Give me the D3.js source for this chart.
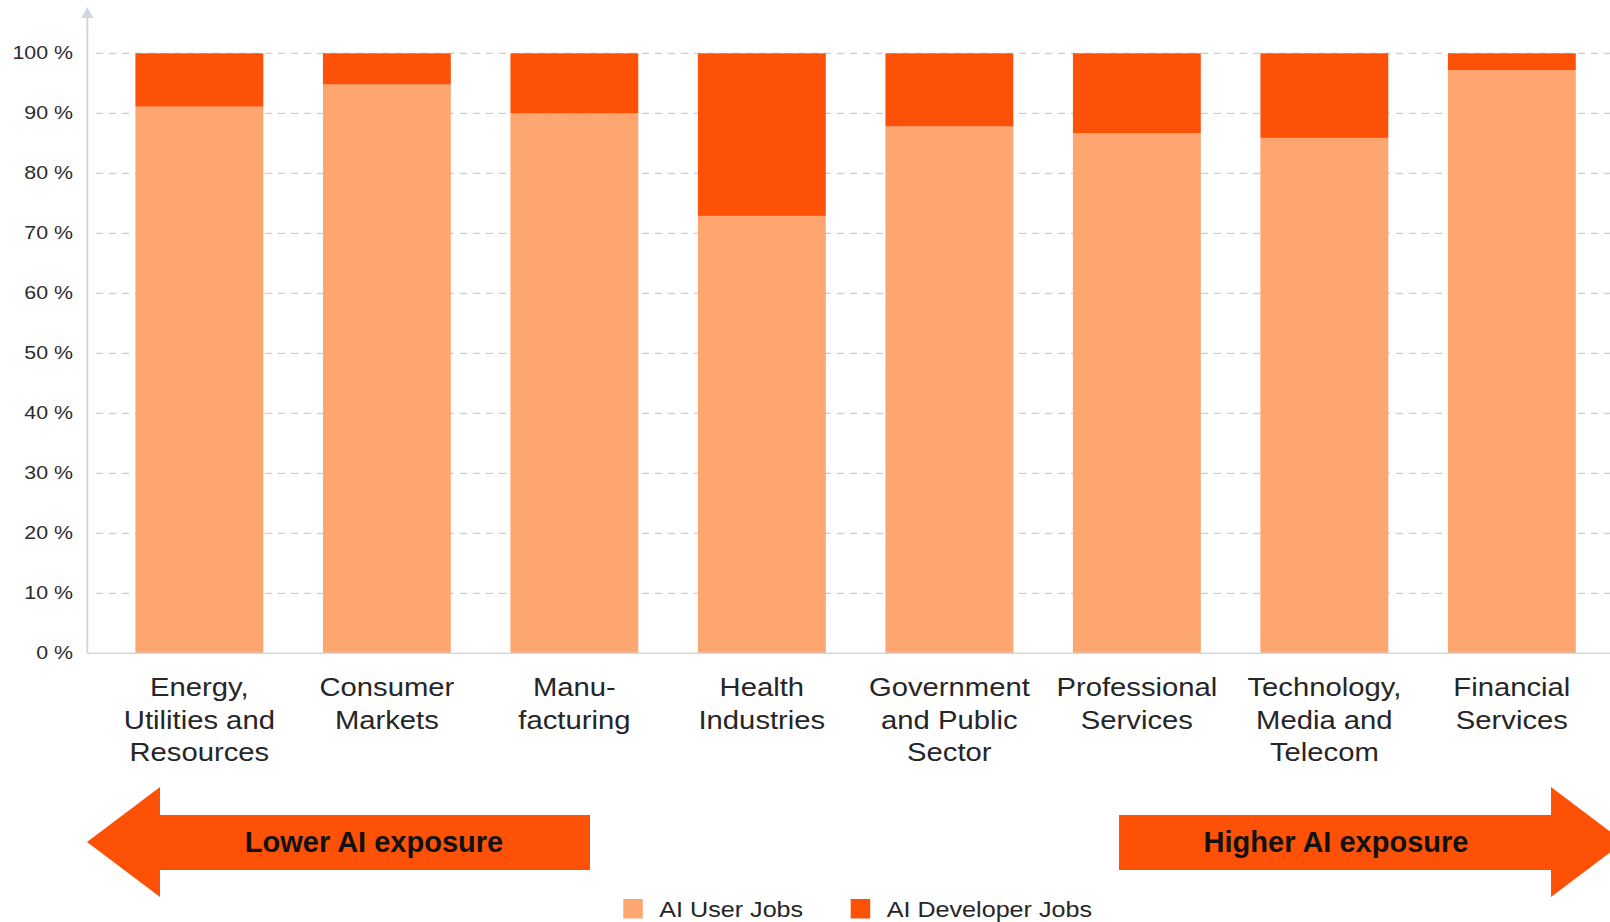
<!DOCTYPE html>
<html>
<head>
<meta charset="utf-8">
<script src="https://cdn.jsdelivr.net/npm/d3@7"></script>
<style>
  body { margin: 0; background: #fff; }
  svg { display: block; font-family: "Liberation Sans", Arial, Helvetica, sans-serif; }
</style>
</head>
<body>
<div id="chart"></div>
<script>
const categories = [
  'Energy,\nUtilities and\nResources',
  'Consumer\nMarkets',
  'Manu-\nfacturing',
  'Health\nIndustries',
  'Government\nand Public\nSector',
  'Professional\nServices',
  'Technology,\nMedia and\nTelecom',
  'Financial\nServices'
];
const userJobs = [91.1, 94.8, 90.0, 72.9, 87.8, 86.7, 85.9, 97.2];
const developerJobs = [8.9, 5.2, 10.0, 27.1, 12.2, 13.3, 14.1, 2.8];
const yTicks = [0, 10, 20, 30, 40, 50, 60, 70, 80, 90, 100];
const seriesNames = ['AI User Jobs', 'AI Developer Jobs'];
const seriesColors = ['#fea66f', '#fd5108'];

const width = 1610, height = 922;
const textScale = 1.17;

const svg = d3.select('#chart').append('svg')
  .attr('width', width)
  .attr('height', height);

const x = d3.scaleBand()
  .domain(categories)
  .range([105.6, 1605.6])
  .paddingInner(0.318)
  .paddingOuter(0.159);

const y = d3.scaleLinear()
  .domain([0, 100])
  .range([653.3, 53.3]);

// gridlines
svg.append('g')
  .selectAll('line')
  .data(yTicks.filter(d => d > 0))
  .enter()
  .append('line')
  .attr('x1', 96)
  .attr('x2', width)
  .attr('y1', d => y(d))
  .attr('y2', d => y(d))
  .attr('stroke', '#c9ced6')
  .attr('stroke-width', 1.2)
  .attr('stroke-dasharray', '7,6');

// y tick labels
svg.append('g')
  .selectAll('text')
  .data(yTicks)
  .enter()
  .append('text')
  .attr('transform', d => `translate(73, ${y(d) + 5.9}) scale(1.22, 1)`)
  .attr('text-anchor', 'end')
  .style('font-size', '17.5px')
  .attr('fill', '#2b2b2b')
  .text(d => `${d} %`);

// stacked bars
const rows = categories.map((c, i) => ({ category: c, user: userJobs[i], dev: developerJobs[i] }));
const stack = d3.stack().keys(['user', 'dev']);
const layers = stack(rows);

svg.append('g')
  .selectAll('g')
  .data(layers)
  .enter()
  .append('g')
  .attr('fill', (d, i) => seriesColors[i])
  .selectAll('rect')
  .data(d => d)
  .enter()
  .append('rect')
  .attr('x', d => x(d.data.category))
  .attr('width', x.bandwidth())
  .attr('y', d => y(d[1]))
  .attr('height', d => y(d[0]) - y(d[1]));

// axes lines
svg.append('line')
  .attr('x1', 87.3).attr('x2', width)
  .attr('y1', y(0)).attr('y2', y(0))
  .attr('stroke', '#d3d7de')
  .attr('stroke-width', 1.5);

svg.append('line')
  .attr('x1', 87.3).attr('x2', 87.3)
  .attr('y1', y(0)).attr('y2', 16)
  .attr('stroke', '#d3d7de')
  .attr('stroke-width', 2);

svg.append('path')
  .attr('d', 'M87.3,7 L93.5,18 L81.1,18 Z')
  .attr('fill', '#d3d7de');

// category labels
const catLabels = svg.append('g')
  .selectAll('text')
  .data(categories)
  .enter()
  .append('text')
  .attr('transform', d => `translate(${x(d) + x.bandwidth() / 2}, 696) scale(${textScale}, 1)`)
  .attr('text-anchor', 'middle')
  .style('font-size', '25px')
  .attr('fill', '#262626');

catLabels.selectAll('tspan')
  .data(d => d.split('\n'))
  .enter()
  .append('tspan')
  .attr('x', 0)
  .attr('y', (d, i) => i * 32.7)
  .text(d => d);

// exposure arrows
const arrowColor = '#fd5108';
const midY = 842;
svg.append('path')
  .attr('d', `M87,${midY} L160,787 L160,815 L590,815 L590,870 L160,870 L160,897 Z`)
  .attr('fill', arrowColor);

svg.append('path')
  .attr('d', `M1119,815 L1551,815 L1551,787 L1624,${midY} L1551,897 L1551,870 L1119,870 Z`)
  .attr('fill', arrowColor);

svg.append('text')
  .attr('x', 374)
  .attr('y', 851.5)
  .attr('text-anchor', 'middle')
  .style('font-size', '29px')
  .style('font-weight', 'bold')
  .attr('fill', '#111')
  .text('Lower AI exposure');

svg.append('text')
  .attr('x', 1336)
  .attr('y', 851.5)
  .attr('text-anchor', 'middle')
  .style('font-size', '29px')
  .style('font-weight', 'bold')
  .attr('fill', '#111')
  .text('Higher AI exposure');

// legend
const legendX = [623.3, 850.7];
const legend = svg.append('g')
  .selectAll('g')
  .data(seriesNames)
  .enter()
  .append('g')
  .attr('transform', (d, i) => `translate(${legendX[i]}, 899)`);

legend.append('rect')
  .attr('width', 19.5)
  .attr('height', 19.5)
  .attr('fill', (d, i) => seriesColors[i]);

legend.append('text')
  .attr('transform', 'translate(36, 17.5) scale(1.17, 1)')
  .style('font-size', '21.5px')
  .attr('fill', '#262626')
  .text(d => d);
</script>
</body>
</html>
